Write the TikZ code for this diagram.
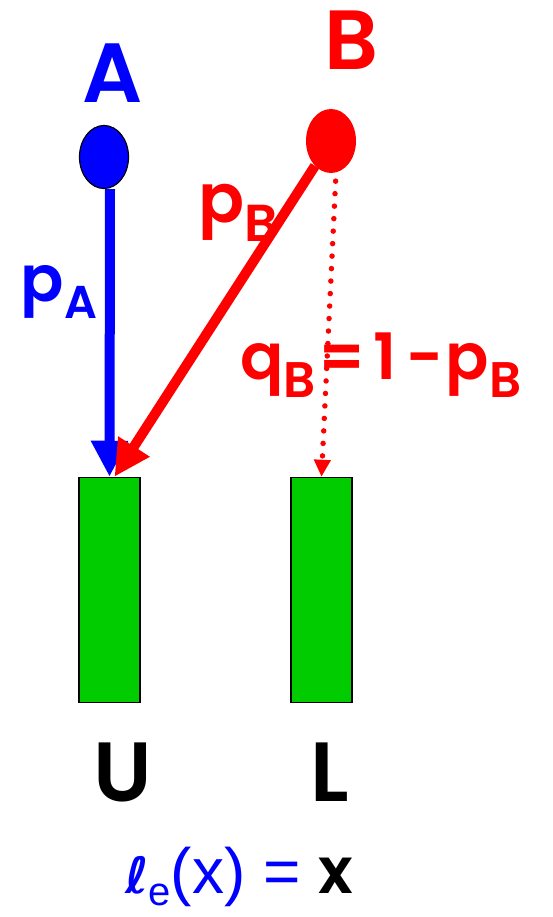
\documentclass[tikz,border=0pt]{standalone}
\usepackage{fontspec}
\setmainfont{Poppins}[BoldFont={* SemiBold}]
\newfontfamily\arialfont{Liberation Sans}
\newfontfamily\ellfont{DejaVu Sans}
\usepackage{xcolor}
\definecolor{playerblue}{RGB}{0,0,255}
\definecolor{playerred}{RGB}{255,0,0}
\definecolor{linkgreen}{RGB}{0,204,0}
\usetikzlibrary{positioning,arrows.meta,shapes.geometric}
\newcommand{\lowidx}[2][52]{\raisebox{-0.28em}{\fontsize{#1}{#1}\selectfont #2}}

\begin{document}
\begin{tikzpicture}[
      x=1pt,y=-1pt,
      ball/.style={ellipse,inner sep=0pt,minimum width=49,minimum height=63},
      route/.style={draw=black,line width=1.5pt,fill=linkgreen,
        minimum width=61,minimum height=225,inner sep=0pt},
      lbl/.style={font=\bfseries\fontsize{84}{88}\selectfont,inner sep=0pt},
      prob/.style={font=\bfseries\fontsize{68}{72}\selectfont,inner sep=0pt},
      move/.style={line width=10pt,-{Triangle[length=36pt,width=35pt]}}
    ]
    \useasboundingbox (0,0) rectangle (552,917);
    \node[ball,fill=playerblue,draw=black,line width=1.2pt] (adot) at (104,157) {};
    \node[ball,fill=playerred,minimum width=50,minimum height=64] (bdot) at (331,141) {};
    \node[route] (ubox) at (109.5,590) {};
    \node[route] (lbox) at (321.5,590) {};
    \node[lbl,playerblue] (alab) at (113,73) {A};
    \node[lbl,playerred] (blab) at (352,40) {B};
    \node[lbl] (ulab) at (123,772) {U};
    \node[lbl] (llab) at (330,772) {L};
    \node[prob,playerblue,font=\bfseries\fontsize{64}{68}\selectfont] (palab) at (59,292) {p\lowidx[46]{A}};
    \node[prob,playerred] (pblab) at (238,213) {p\lowidx{B}};
    \node[prob,playerred,font=\bfseries\fontsize{64}{68}\selectfont] (qblab) at (381,365)
    {q\lowidx[50]{B}\hspace{2pt}=\hspace{8pt}1\hspace{10pt}-\hspace{2pt}p\lowidx[50]{B}};
    \node[inner sep=0pt] (cost) at (239,877)
    {{\color{playerblue}{\ellfont\bfseries\fontsize{50}{54}\selectfont ℓ}%
      \arialfont\fontsize{40}{44}\selectfont\raisebox{-0.3em}{e}%
      \fontsize{64}{68}\selectfont(x) = }%
      {\bfseries\fontsize{64}{68}\selectfont x}};
    \draw[move,playerblue] ([xshift=6]adot.south) -- (ubox.north);
    \draw[move,playerred] (bdot) -- ([xshift=5]ubox.north);
    \draw[playerred,line width=5.5pt,line cap=round,dash pattern=on 0pt off 12.5pt,
      shorten <=8pt,-{Triangle[length=17pt,width=16pt]}]
    ([xshift=5]bdot.south) -- (lbox.north);
  \end{tikzpicture}
\end{document}
